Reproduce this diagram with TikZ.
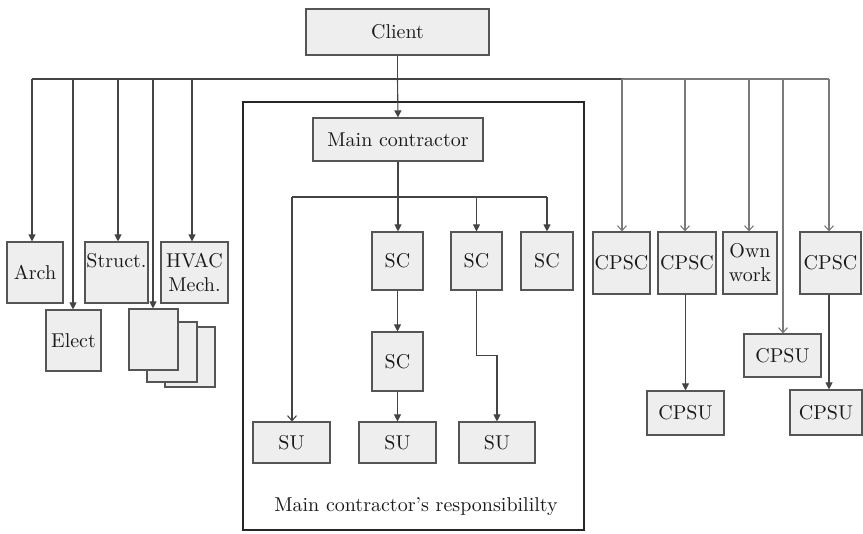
\documentclass[tikz,border=0pt]{standalone}
\usepackage{fontspec}
\setmainfont{lmroman10-regular.otf}
\usetikzlibrary{arrows.meta}
\definecolor{boxfill}{HTML}{EEEEEE}
\definecolor{boxline}{HTML}{555555}
\definecolor{linedark}{HTML}{444444}
\definecolor{linelight}{HTML}{7A7A7A}
\definecolor{txt}{HTML}{1A1A1A}
\begin{document}
\begin{tikzpicture}[x=1pt,y=-1pt,
  font=\fontsize{20}{24}\selectfont,
  box/.style={draw=boxline,fill=boxfill,line width=1.1pt,inner sep=0pt,text=txt,align=center},
  conn/.style={draw=linedark,line width=1.1pt},
  connl/.style={draw=linelight,line width=1.1pt},
  farr/.style={-{Triangle[length=7pt,width=7pt]}},
  oarr/.style={-{Straight Barb[length=5pt,width=9pt,line width=1.1pt]}}]
\useasboundingbox (0,0) rectangle (863,534);

% main contractor's frame
\draw[draw=black!85,line width=2.4pt] (243,102) rectangle (584,530);

% top
\node[box,minimum width=183,minimum height=46] (client) at (397.5,32) {Client};
\node[box,minimum width=170,minimum height=43] (mc) at (398,139.5) {Main contractor};

% inside frame
\node[box,minimum width=51,minimum height=58] (SC1) at (397.5,261) {SC};
\node[box,minimum width=51,minimum height=58] (SC2) at (476.5,261) {SC};
\node[box,minimum width=52,minimum height=58] (SC3) at (547,261) {SC};
\node[box,minimum width=51,minimum height=59] (SC4) at (397.5,361.5) {SC};
\node[box,minimum width=77,minimum height=41] (SU1) at (291.5,442.5) {SU};
\node[box,minimum width=77,minimum height=41] (SU2) at (397.5,442.5) {SU};
\node[box,minimum width=76,minimum height=41] (SU3) at (497,442.5) {SU};
\node[text=txt] (resp) at (416,507) {Main contractor’s responsibililty};

% left consultants
\node[box,minimum width=56,minimum height=61] (arch) at (35,272.5) {Arch};
\node[box,minimum width=55,minimum height=61] (elect) at (73.5,340.5) {Elect};
\node[box,minimum width=63,minimum height=61] (struct) at (116.5,272.5) {Struct.\\\phantom{M}};
\node[box,minimum width=67,minimum height=61] (hvac) at (194.5,272.5) {HVAC\\Mech.};
\node[box,minimum width=50,minimum height=60] (st3) at (190,357) {};
\node[box,minimum width=50,minimum height=60] (st2) at (172,352) {};
\node[box,minimum width=49,minimum height=61] (st1) at (153.5,339.5) {};

% right
\node[box,minimum width=57,minimum height=62] (cpsc1) at (621.5,263) {CPSC};
\node[box,minimum width=58,minimum height=62] (cpsc2) at (687,263) {CPSC};
\node[box,minimum width=54,minimum height=62] (own) at (750,263) {Own\\work};
\node[box,minimum width=61,minimum height=62] (cpsc3) at (830.5,263) {CPSC};
\node[box,minimum width=77,minimum height=43] (cpsum) at (782.5,355.5) {CPSU};
\node[box,minimum width=77,minimum height=44] (cpsu2) at (685.5,413) {CPSU};
\node[box,minimum width=72,minimum height=45] (cpsu3) at (826,412.5) {CPSU};

% bus coordinates
\coordinate (bArch) at (32,79);
\coordinate (bElect) at (73,79);
\coordinate (bStruct) at (118,79);
\coordinate (bStack) at (153,79);
\coordinate (bHvac) at (192,79);
\coordinate (bMid) at (397.5,79);
\coordinate (bC1) at (622,79);
\coordinate (bC2) at (685,79);
\coordinate (bOwn) at (749,79);
\coordinate (bSU) at (783,79);
\coordinate (bC3) at (829,79);

\draw[conn] (client.south) -- (bMid);
\draw[conn] (bArch) -- (bMid);
\draw[conn] (bMid) -- (bC1);
\draw[connl] (bC1) -- (bC3);

\draw[conn,farr] (bArch) -- (bArch |- arch.north);
\draw[conn,farr] (bElect) -- (bElect |- elect.north);
\draw[conn,farr] (bStruct) -- (bStruct |- struct.north);
\draw[conn,farr] (bStack) -- (bStack |- st1.north);
\draw[conn,farr] (bHvac) -- (bHvac |- hvac.north);
\draw[conn,farr] (bMid) -- (mc.north);

\draw[connl,oarr] (bC1) -- (bC1 |- cpsc1.north);
\draw[connl,oarr] (bC2) -- (bC2 |- cpsc2.north);
\draw[connl,oarr] (bOwn) -- (bOwn |- own.north);
\draw[connl,oarr] (bSU) -- (bSU |- cpsum.north);
\draw[connl,oarr] (bC3) -- (bC3 |- cpsc3.north);

\draw[conn,farr] (cpsu2.north |- cpsc2.south) -- (cpsu2.north);
\draw[conn,farr] (bC3 |- cpsc3.south) -- (bC3 |- cpsu3.north);

% main contractor branch
\coordinate (brL) at (292,197);
\coordinate (brM) at (398,197);
\coordinate (br2) at (476.5,197);
\coordinate (brR) at (547,197);
\draw[conn] (mc.south) -- (brM);
\draw[conn] (brL) -- (brR);
\draw[conn,oarr] (brL) -- (brL |- SU1.north);
\draw[conn,farr] (brM) -- (brM |- SC1.north);
\draw[conn,farr] (br2) -- (SC2.north);
\draw[conn,farr] (brR) -- (SC3.north);
\draw[conn,farr] (SC1) -- (SC4);
\draw[conn,farr] (SC4) -- (SU2);
\draw[conn,farr] (SC2.south) -- ++(0,65) -| (SU3.north);
\end{tikzpicture}
\end{document}
